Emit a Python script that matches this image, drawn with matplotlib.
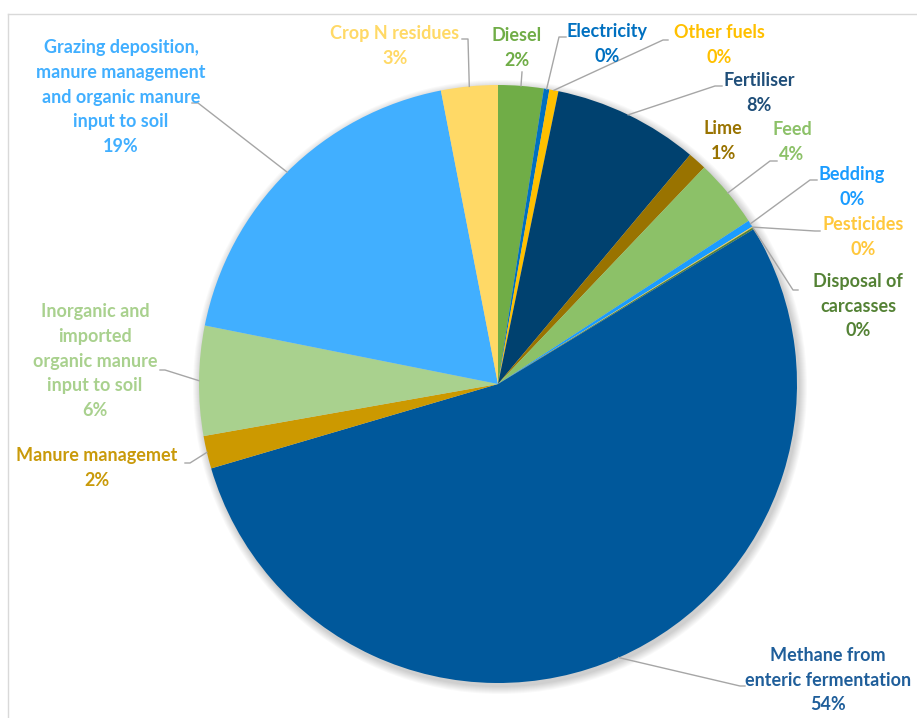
import numpy as np
import matplotlib.pyplot as plt

# emission sources, clockwise from 12 o'clock
sources = ["Diesel", "Electricity", "Other fuels", "Fertiliser", "Lime", "Feed",
           "Bedding", "Pesticides", "Disposal of\ncarcasses",
           "Methane from\nenteric fermentation", "Manure managemet",
           "Inorganic and\nimported\norganic manure\ninput to soil",
           "Grazing deposition,\nmanure management\nand organic manure\ninput to soil",
           "Crop N residues"]
shares = [2.45, 0.3, 0.49, 7.86, 1.01, 3.7, 0.37, 0.05, 0.1, 54.1, 1.77, 5.92, 18.8, 3.06]

wedge_colors = ["#70AD47", "#0070C0", "#FFC000", "#00416F", "#997300", "#8CC168",
                "#1A9CFF", "#FFD34D", "#548235", "#00589B", "#CC9900", "#A9D18E",
                "#41AFFF", "#FFD966"]
text_colors = ["#70AD47", "#0070C0", "#FFC000", "#1F4E79", "#997300", "#8CC168",
               "#1A9CFF", "#FFC83D", "#548235", "#1F5E9A", "#C99A0A", "#A9D18E",
               "#41AFFF", "#FFD966"]

# label centres and leader anchors (pixel coords)
label_xy = [(517, 48), (607, 44), (719, 45), (759, 93), (723, 141), (792, 142),
            (852, 187), (863, 237), (858, 306), (828, 680), (97, 468), (95, 361),
            (121, 97), (395, 46)]
leaders = [[(522, 72)], [(566, 37), (559, 37)], [(668, 40), (663, 40)],
           [(722, 86), (715, 86)], None, [(777, 161), (770, 161)],
           [(817, 180), (810, 180)], [(820, 231), (815, 231)],
           [(798, 290), (793, 290)], [(745, 686), (740, 686)],
           [(185, 463), (190, 463)], [(160, 370), (165, 370)],
           [(192, 103), (198, 103)], [(462, 39), (468, 39)]]

W, H = 917, 718
fig = plt.figure(figsize=(W / 100, H / 100), dpi=100)
ax = fig.add_axes([0, 0, 1, 1])

cx, cy, R = 498, 384, 299

# chart area frame
ax.plot([8, W], [14, 14], color="#D9D9D9", lw=1)
ax.plot([8, 8], [14, H], color="#D9D9D9", lw=1)

# soft shadow under the pie
for k in range(8):
    ax.add_patch(plt.Circle((cx + 2, cy + 3), R + 8 - k, color="black",
                            alpha=0.025, lw=0, zorder=1))

wedges, _ = ax.pie(shares, colors=wedge_colors, startangle=-90, counterclock=True,
                   center=(cx, cy), radius=R, frame=True,
                   wedgeprops=dict(linewidth=0, zorder=2))
ax.set_xlim(0, W)
ax.set_ylim(H, 0)
ax.set_aspect('equal')
ax.axis('off')

total = sum(shares)
for w, name, v, col, pos, ld in zip(wedges, sources, shares, text_colors, label_xy, leaders):
    ax.text(pos[0], pos[1], f"{name}\n{v / total * 100:.0f}%", color=col,
            ha='center', va='center', fontsize=13, fontweight='bold',
            family='Lato', linespacing=1.55, zorder=5)
    if ld is None:
        continue
    mid = np.deg2rad((w.theta1 + w.theta2) / 2)
    edge = (cx + R * np.cos(mid), cy + R * np.sin(mid))
    pts = ld + [edge]
    ax.plot([p[0] for p in pts], [p[1] for p in pts], color="#A6A6A6", lw=1, zorder=4)

fig.savefig("out.png", dpi=100, facecolor="white")
